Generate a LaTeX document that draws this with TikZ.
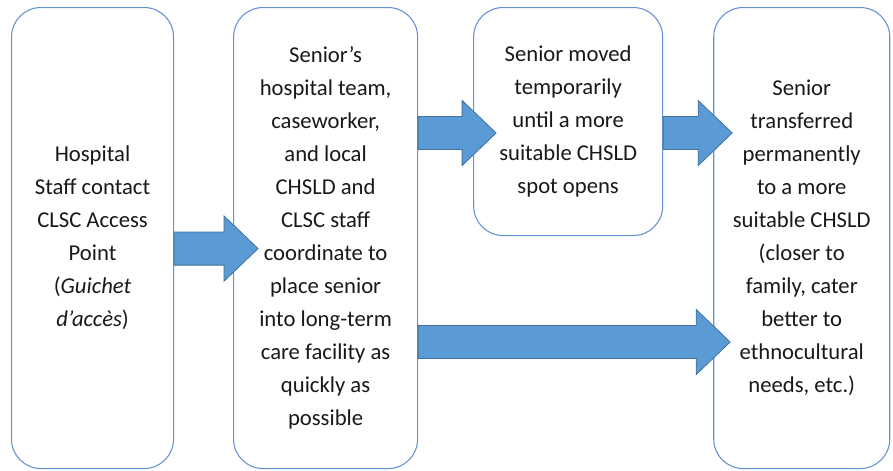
\documentclass[tikz,border=0pt]{standalone}
\usepackage{fontspec}
\setmainfont{Carlito}
\usetikzlibrary{positioning,calc}
\usepackage{xcolor}

\definecolor{boxline}{HTML}{6491D6}
\definecolor{arrowfill}{HTML}{5B9BD5}
\definecolor{arrowline}{HTML}{41719C}

% block arrow from tail coordinate to tip coordinate
\newcommand{\fatarrow}[2]{%
  \path[fatarrow] let \p1=(#1), \p2=(#2) in
    (\x1,\y1+12.4pt) -- (\x2-25.5pt,\y1+12.4pt) -- (\x2-25.5pt,\y1+24.4pt)
    -- (\x2,\y1) -- (\x2-25.5pt,\y1-24.4pt) -- (\x2-25.5pt,\y1-12.4pt)
    -- (\x1,\y1-12.4pt) -- cycle;}

\begin{document}
\begin{tikzpicture}[
        every node/.style={font=\fontsize{17}{24.75}\selectfont, text=black!90},
        box/.style={draw=boxline, line width=0.8pt, rectangle, rounded corners=22pt, fill=white, minimum height=345.75pt, align=center, inner sep=0pt},
        fatarrow/.style={fill=arrowfill, draw=arrowline, line width=0.6pt}
    ]
        \useasboundingbox (0,0) rectangle (669.75pt,-353.25pt);

        % Boxes - left to right
        \node[box, minimum width=121.5pt, anchor=north west] (hosp) at (8.25pt,-5.25pt)
            {Hospital\\Staff contact\\CLSC Access\\Point\\(\textit{Guichet}\\\textit{d'accès})};
        \node[box, minimum width=138pt, right=44.25pt of hosp] (care)
            {Senior's\\hospital team,\\caseworker,\\and local\\CHSLD and\\CLSC staff\\coordinate to\\place senior\\into long-term\\care facility as\\quickly as\\possible};
        \node[box, minimum width=141.75pt, minimum height=171pt, right=41.25pt of care.north east, anchor=north west] (temp)
            {Senior moved\\temporarily\\until a more\\suitable CHSLD\\spot opens};
        \node[box, minimum width=132pt, right=37.5pt of temp.north east, anchor=north west] (perm)
            {Senior\\transferred\\permanently\\to a more\\suitable CHSLD\\(closer to\\family, cater\\better to\\ethnocultural\\needs, etc.)};

        % Arrow ends
        \coordinate (a1s) at ($(hosp.east)+(0,-7.9pt)$);
        \coordinate (a1e) at ($(care.west)+(18.75pt,-7.9pt)$);
        \coordinate (a2s) at ($(care.east |- temp.west)+(0,-8.6pt)$);
        \coordinate (a2e) at ($(temp.west)+(17.25pt,-8.6pt)$);
        \coordinate (a3s) at ($(temp.east)+(0,-8.6pt)$);
        \coordinate (a3e) at ($(perm.west |- temp.west)+(14.25pt,-8.6pt)$);
        \coordinate (a4s) at ($(care.east)+(0,-78pt)$);
        \coordinate (a4e) at ($(perm.west)+(12.75pt,-78pt)$);

        % Arrows
        \fatarrow{a1s}{a1e}
        \fatarrow{a2s}{a2e}
        \fatarrow{a3s}{a3e}
        \fatarrow{a4s}{a4e}
    \end{tikzpicture}
\end{document}
